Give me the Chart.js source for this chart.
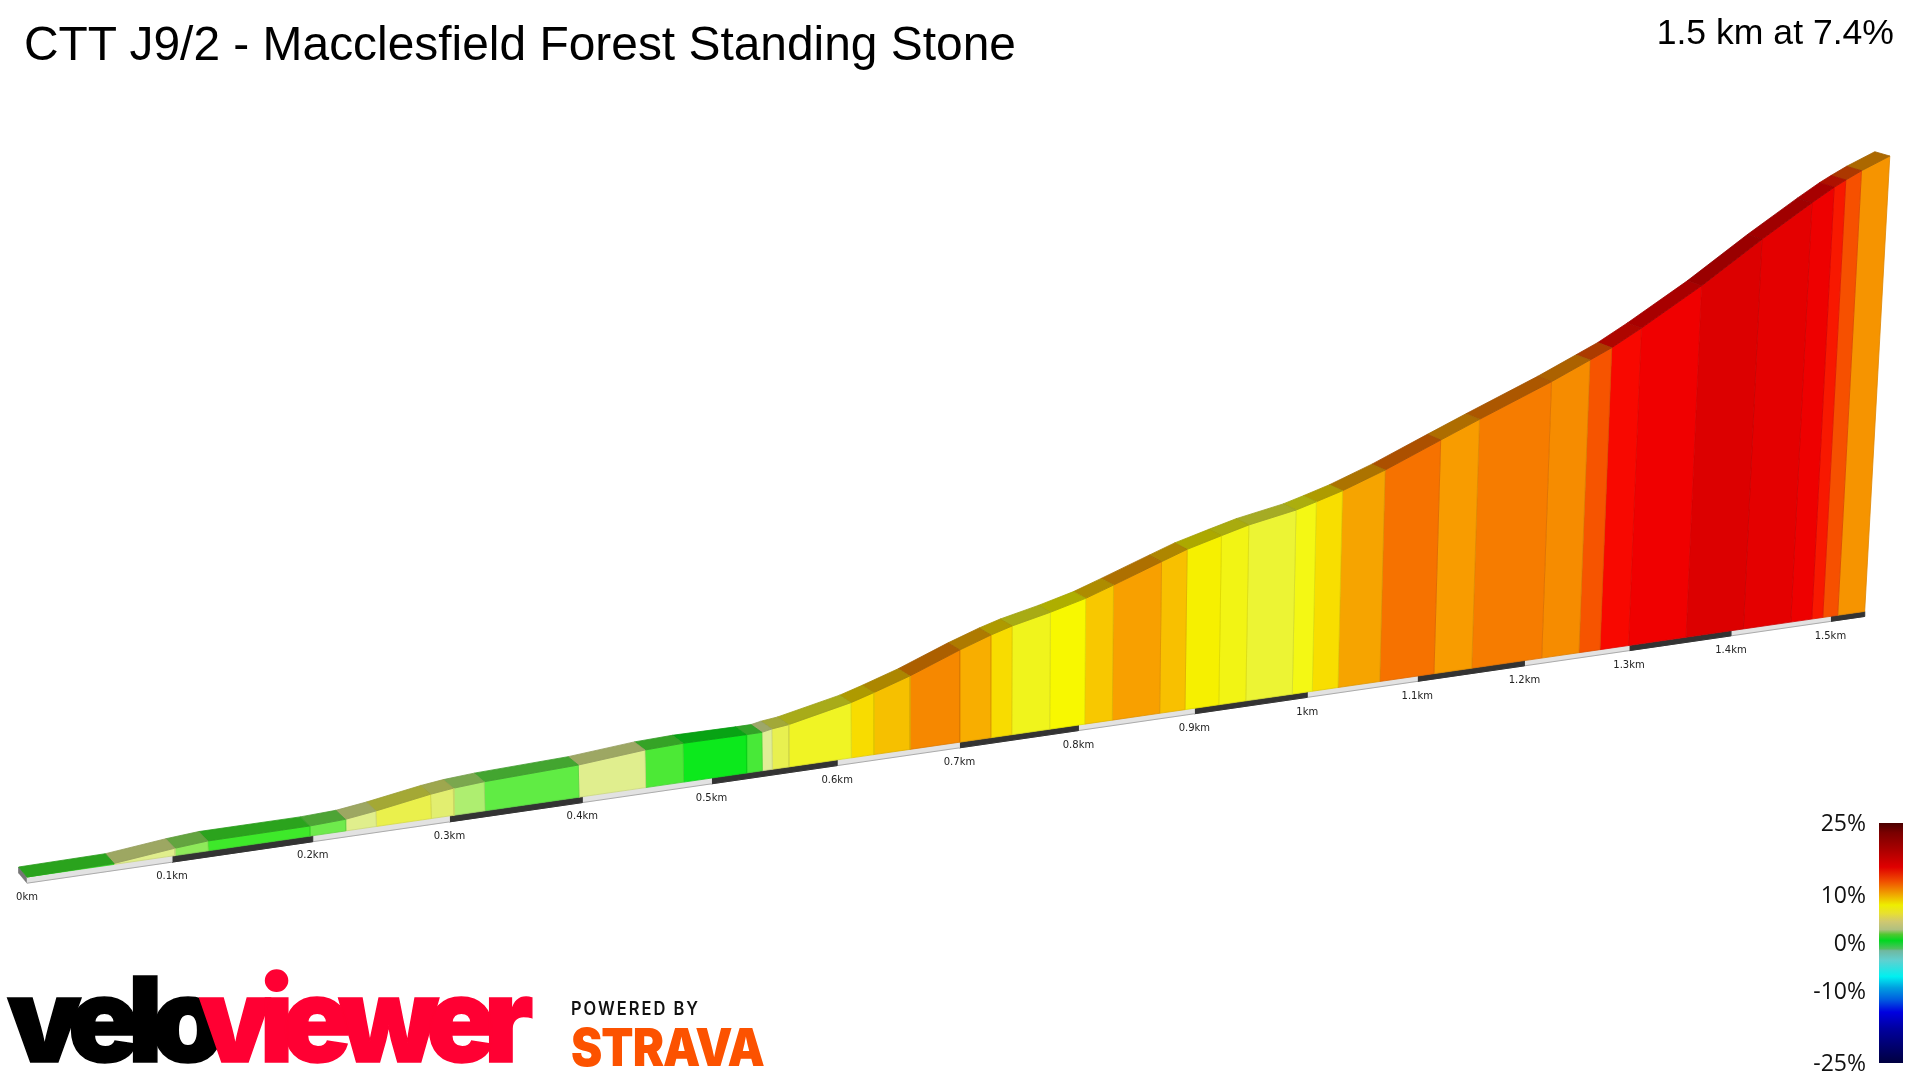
<!DOCTYPE html>
<html><head><meta charset="utf-8"><title>CTT J9/2 - Macclesfield Forest Standing Stone</title>
<script src="https://cdn.jsdelivr.net/npm/chart.js@4"></script>
<style>
html,body{margin:0;padding:0;background:#fff;width:1920px;height:1080px;overflow:hidden}
#wrap{position:relative;width:1920px;height:1080px}
canvas{position:absolute;left:0;top:0}
.t{position:absolute;white-space:nowrap;line-height:1;transform-origin:0 0}
#title{left:24px;top:15.5px;font:47.9px "Liberation Sans",Arial,sans-serif;color:#000}
#sub{right:26px;top:12px;font:35.6px "Liberation Sans",Arial,sans-serif;color:#000}
.logo{font-family:Inter,sans-serif;font-weight:900;font-size:118px;letter-spacing:-.1em;-webkit-text-stroke:1.5px currentColor}
#velo{left:7px;top:960px;color:#000}
#viewer{left:199px;top:960px;color:#ff0033}
#pow{left:571px;top:998px;font:600 18px Inter,sans-serif;letter-spacing:.12em;color:#111}
#strava{left:571px;top:1016px;font:900 52px Inter,sans-serif;color:#fc5200;letter-spacing:-.02em}
</style></head><body>
<div id="wrap"><canvas id="c" width="1920" height="1080"></canvas>
<div class="t" id="title">CTT J9/2 - Macclesfield Forest Standing Stone</div>
<div class="t" id="sub">1.5 km at 7.4%</div>
<div class="t logo" id="velo">velo</div>
<div class="t logo" id="viewer">viewer</div>
<div class="t" id="pow">POWERED BY</div>
<div class="t" id="strava">STRAVA</div>
</div>
<script>
const distanceKm=[0,0.0597,0.1021,0.1255,0.198,0.2239,0.2462,0.2866,0.3034,0.3265,0.3975,0.4487,0.4782,0.5277,0.5401,0.548,0.5613,0.6114,0.6298,0.6592,0.7002,0.726,0.7436,0.7756,0.8053,0.8289,0.8698,0.8918,0.9214,0.9452,0.9866,1.0045,1.0277,1.0656,1.1154,1.1505,1.2163,1.2518,1.272,1.2995,1.3556,1.4123,1.4598,1.481,1.4922,1.5074,1.535];
const elevationM=[0,0.2,1.5,2.02,2.1,2.42,3.25,5.12,5.7,6.16,6.89,8.1,8.4,8.35,8.38,8.81,9.24,12.17,13.68,16.28,20.57,22.99,24.39,26.35,28.46,30.66,34.6,36.69,38.85,40.54,42.66,44.01,45.85,49.51,55.04,58.9,65.96,70.16,72.57,76.56,85.35,95.29,103.15,106.48,108.03,109.99,113.04];
const segmentColours=['#3ce92a','#e0ee8c','#8eea5a','#3ee92a','#6eea4c','#e0ee8c','#eaf04c','#e2ee70','#aeee70','#60ec44','#e0ee8e','#4ce936','#0ce91c','#48e938','#e0ee96','#e8f050','#f0f424','#f8dc00','#f6c000','#f68800','#f8ae00','#f8dc00','#f0f41c','#f8f800','#f8c800','#f8a000','#f8c000','#f6f000','#f2f414','#ecf434','#f4f814','#f8de00','#f6a400','#f67200','#f89c00','#f67c00','#f68c00','#f65400','#f80800','#f00000','#dc0000','#e40000','#ee0000','#f81800','#f65000','#f69400'];
const kmTicks=[0,0.1,0.2,0.3,0.4,0.5,0.6,0.7,0.8,0.9,1,1.1,1.2,1.3,1.4,1.5];
const kmLabels=['0km','0.1km','0.2km','0.3km','0.4km','0.5km','0.6km','0.7km','0.8km','0.9km','1km','1.1km','1.2km','1.3km','1.4km','1.5km'];
const legendTicks=[25,10,0,-10,-25];
const legendStops=[[25,'#4a0000'],[23,'#7a0000'],[19.6,'#a80000'],[15.8,'#e00000'],[12.8,'#f05000'],[10.3,'#f0a000'],[7.9,'#eeee00'],[6.2,'#e8e030'],[4.5,'#d0c870'],[2.8,'#b0c080'],[1.8,'#50c830'],[0.5,'#00d820'],[-1.2,'#50c060'],[-1.6,'#70b8a0'],[-3.6,'#60d0d0'],[-7,'#00f0f0'],[-9.3,'#00a0e0'],[-11.7,'#0060e0'],[-14.4,'#0000e0'],[-17.8,'#0000a0'],[-25,'#000040']];

// Oblique perspective of the reference's 3D ribbon, in scene units
const P={x0:27,y0:203,a:1471,b:.149,c:212.6,k:4.95,cx:960,sk:6.1e-5,strip:6.2};
const baseAt=d=>{const w=1+P.b*d;return{x:P.x0+P.a*d/w,y:P.y0+P.c*d/w,w};};
const topAt=(d,e)=>{const b=baseAt(d),h=P.k*e/b.w;return{x:b.x+h*(b.x-P.cx)*P.sk,y:b.y+h};};
const backOf=p=>{const t=(p.x-28)/1862;return{x:p.x-8.3-6.7*t,y:p.y+10-5.7*t};};
const lowAt=d=>{const b=baseAt(d);return{x:b.x,y:b.y-P.strip/b.w};};
const shade=(hex,f)=>'rgb('+[1,3,5].map(i=>Math.round(parseInt(hex.substr(i,2),16)*f)).join(',')+')';
const poly=(pts,fill,stroke,w)=>({type:'scatter',showLine:true,data:pts.concat([pts[0]]),fill:'shape',backgroundColor:fill,borderColor:stroke,borderWidth:w,pointRadius:0,tension:0,clip:false,parsing:true});

const datasets=[];
for(let i=0;i<segmentColours.length;i++){
  const d0=distanceKm[i],d1=distanceKm[i+1],t0=topAt(d0,elevationM[i]),t1=topAt(d1,elevationM[i+1]);
  const col=segmentColours[i];
  datasets.push(poly([t0,t1,backOf(t1),backOf(t0)],shade(col,.7),shade(col,.66),.8));
  datasets.push(poly([baseAt(d0),t0,t1,baseAt(d1)].map(p=>({x:p.x,y:p.y})),col,shade(col,.9),.8));
}
const stripEnds=kmTicks.concat([distanceKm[distanceKm.length-1]]);
for(let i=0;i<stripEnds.length-1;i++){
  const d0=stripEnds[i],d1=stripEnds[i+1],dark=i%2===1;
  datasets.push({type:'scatter',showLine:true,data:[lowAt(d0),lowAt(d1)],borderColor:dark?'#333333':'#ababab',borderWidth:1,pointRadius:0,clip:false});
  datasets.push(poly([baseAt(d0),baseAt(d1),lowAt(d1),lowAt(d0)].map(p=>({x:p.x,y:p.y})),dark?'#333333':'#e2e2e2',dark?'#333333':'#e2e2e2',.5));
}
const z=topAt(0,0),zb=backOf(z),zl=lowAt(0);
datasets.push(poly([{x:z.x,y:z.y},zb,{x:zb.x,y:zb.y-P.strip},{x:zl.x,y:zl.y}],'#777777','#777777',.5));

const annotate={id:'annotate',afterDraw(chart){
  const ctx=chart.ctx,xs=chart.scales.x,ys=chart.scales.y;
  ctx.save();ctx.fillStyle='#222';ctx.font='10px "DejaVu Sans"';ctx.textAlign='center';ctx.textBaseline='middle';
  kmTicks.forEach((d,i)=>{const b=baseAt(d);ctx.fillText(kmLabels[i],xs.getPixelForValue(b.x),ys.getPixelForValue(b.y)+20);});
  const top=823,h=240,yOf=v=>top+(25-v)/50*h;
  const g=ctx.createLinearGradient(0,top,0,top+h);
  legendStops.forEach(s=>g.addColorStop((25-s[0])/50,s[1]));
  ctx.fillStyle=g;ctx.fillRect(1879,top,24,h);
  ctx.fillStyle='#111';ctx.font='23px "Open Sans"';ctx.textAlign='right';
  legendTicks.forEach(v=>{ctx.fillText(v+'%',1866,yOf(v)+1);});
  ctx.restore();
}};
new Chart(document.getElementById('c'),{
  data:{datasets},
  options:{responsive:false,animation:false,events:[],layout:{padding:0},
    plugins:{legend:{display:false},tooltip:{enabled:false},title:{display:false}},
    scales:{x:{type:'linear',min:0,max:1920,display:false},y:{type:'linear',min:0,max:1080,display:false}}},
  plugins:[annotate]
});
const fit=(id,w)=>{const e=document.getElementById(id),r=e.getBoundingClientRect().width;e.style.transform='scaleX('+(w/r)+')';};
fit('velo',206);fit('viewer',323);fit('pow',129);fit('strava',193);
</script></body></html>
